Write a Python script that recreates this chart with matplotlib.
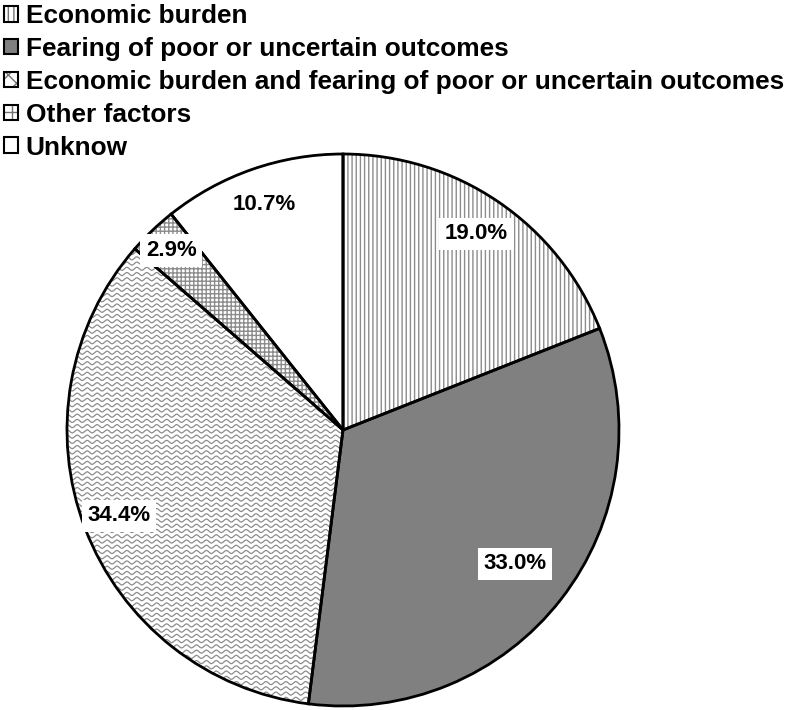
import numpy as np
import matplotlib
matplotlib.use("Agg")
import matplotlib.pyplot as plt
from matplotlib.patches import Patch

plt.rcParams['font.family'] = ['Liberation Sans', 'DejaVu Sans']
plt.rcParams['hatch.linewidth'] = 1.0

categories = ["Economic burden",
              "Fearing of poor or uncertain outcomes",
              "Economic burden and fearing of poor or uncertain outcomes",
              "Other factors",
              "Unknow"]
values = [19.0, 33.0, 34.4, 2.9, 10.7]
labels = ["19.0%", "33.0%", "34.4%", "2.9%", "10.7%"]

facecolors = ["white", "#808080", "white", "white", "white"]
hatches = ["||||", None, None, "++++", None]
label_dist = [0.86, 0.79, 0.87, 0.90, 0.865]
hatch_gray = "#8c8c8c"

W, H = 787, 710
fig = plt.figure(figsize=(W / 100, H / 100), dpi=100)
cx, cy, r = 343, 430, 276
ax = fig.add_axes([(cx - r) / W, (H - cy - r) / H, 2 * r / W, 2 * r / H])

wedges, _ = ax.pie(values, startangle=90, counterclock=False,
                   colors=facecolors,
                   wedgeprops=dict(edgecolor=hatch_gray, linewidth=0))
for w, h in zip(wedges, hatches):
    if h:
        w.set_hatch(h)

# wavy texture for the combined slice
wv = wedges[2]
xs = np.linspace(-1.05, 1.05, 1200)
for y0 in np.arange(-1.05, 1.05, 0.019):
    ln, = ax.plot(xs, y0 + 0.0055 * np.sin(2 * np.pi * xs / 0.036),
                  color=hatch_gray, lw=0.9, zorder=wv.get_zorder() + 0.1)
    ln.set_clip_path(wv)

# black outlines
outl, _ = ax.pie(values, startangle=90, counterclock=False,
                 wedgeprops=dict(fill=False, edgecolor="black", linewidth=2))
for w in outl:
    w.set_zorder(5)

for w, lab, d in zip(wedges, labels, label_dist):
    ang = np.deg2rad((w.theta1 + w.theta2) / 2)
    ax.text(d * np.cos(ang), d * np.sin(ang), lab, ha="center", va="center",
            fontsize=16, fontweight="bold", zorder=10,
            bbox=dict(facecolor="white", edgecolor="none", pad=4))

ax.set_xlim(-1, 1)
ax.set_ylim(-1, 1)
ax.axis("off")

legend_hatches = ["|||", None, "xx", "++", None]
handles = [Patch(facecolor=fc, edgecolor="black", hatch=lh, linewidth=1.5,
                 label=c)
           for fc, lh, c in zip(facecolors, legend_hatches, categories)]
for hd in handles:
    hd._hatch_color = (0.45, 0.45, 0.45, 1)
leg = fig.legend(handles=handles, loc="upper left", bbox_to_anchor=(0.0, 1.0),
                 frameon=False, borderaxespad=0.15, borderpad=0.0,
                 handlelength=0.55, handleheight=0.55, handletextpad=0.28,
                 labelspacing=0.34,
                 prop=dict(size=18.9, weight="bold"))

fig.savefig("out.png", dpi=100)
